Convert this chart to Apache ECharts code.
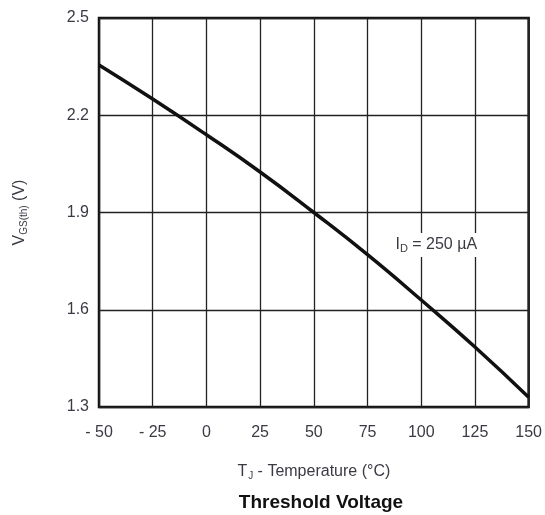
<!DOCTYPE html>
<html>
<head>
<meta charset="utf-8">
<script src="https://cdn.jsdelivr.net/npm/echarts@6/dist/echarts.min.js"></script>
<style>
  html, body { margin: 0; padding: 0; background: #fff; }
  #chart { width: 545px; height: 515px; }
</style>
</head>
<body>
<div id="chart"></div>
<script>
  // temperature (°C) vs threshold voltage (V)
  var temps = [-50, -25, 0, 25, 50, 75, 100, 125, 150];
  var vth = [2.355, 2.25, 2.14, 2.025, 1.9, 1.77, 1.63, 1.485, 1.33];
  var xTicks = { min: -50, max: 150, step: 25 };
  var yTicks = { min: 1.3, max: 2.5, step: 0.3 };

  var chart = echarts.init(document.getElementById('chart'));
  var font = '"Liberation Sans", Arial, sans-serif';
  var labelColor = '#3a3a44';

  chart.setOption({
    animation: false,
    textStyle: { fontFamily: font },
    title: {
      text: 'Threshold Voltage',
      left: 316, top: 488, textAlign: 'center',
      textStyle: { fontSize: 19, fontWeight: 'bold', color: '#111', fontFamily: font }
    },
    grid: {
      left: 99, top: 18, right: 14, bottom: 108,
      show: true, borderColor: '#111', borderWidth: 2.5
    },
    xAxis: {
      type: 'value',
      min: xTicks.min, max: xTicks.max, interval: xTicks.step,
      name: '{n|T}{s|J}{n| - Temperature (°C)}',
      nameLocation: 'middle', nameGap: 55,
      nameTextStyle: {
        rich: {
          n: { fontSize: 16, color: labelColor, fontFamily: font },
          s: { fontSize: 10, color: labelColor, fontFamily: font, verticalAlign: 'bottom', padding: [9, 0, 0, 1] }
        }
      },
      axisLine: { show: false },
      axisTick: { show: false },
      splitLine: { show: true, lineStyle: { color: '#222', width: 1.3 } },
      axisLabel: {
        margin: 18, fontSize: 16, color: labelColor,
        formatter: function (v) { return v < 0 ? '- ' + Math.abs(v) : String(v); }
      }
    },
    yAxis: {
      type: 'value',
      min: yTicks.min, max: yTicks.max, interval: yTicks.step,
      name: '{n|V}{s|GS(th)}{n| (V)}',
      nameLocation: 'middle', nameGap: 70, nameRotate: 90,
      nameTextStyle: {
        rich: {
          n: { fontSize: 16, color: labelColor, fontFamily: font },
          s: { fontSize: 10, color: labelColor, fontFamily: font, verticalAlign: 'bottom', padding: [9, 0, 0, 0] }
        }
      },
      axisLine: { show: false },
      axisTick: { show: false },
      splitLine: { show: true, lineStyle: { color: '#222', width: 1.3 } },
      axisLabel: {
        margin: 10, fontSize: 16, color: labelColor,
        formatter: function (v) { return v.toFixed(1); }
      }
    },
    series: [{
      type: 'line',
      data: temps.map(function (t, i) { return [t, vth[i]]; }),
      smooth: true,
      showSymbol: false,
      lineStyle: { color: '#111', width: 3.5 },
      markPoint: {
        symbol: 'rect', symbolSize: 0,
        data: [{
          coord: [107, 1.80],
          label: {
            show: true,
            formatter: '{n|I}{s|D}{n| = 250 µA}',
            backgroundColor: '#fff',
            padding: [2, 3, 2, 3],
            rich: {
              n: { fontSize: 16, color: labelColor, fontFamily: font },
              s: { fontSize: 11, color: labelColor, fontFamily: font, verticalAlign: 'bottom', padding: [9, 0, 0, 0] }
            }
          }
        }]
      }
    }]
  });
</script>
</body>
</html>
